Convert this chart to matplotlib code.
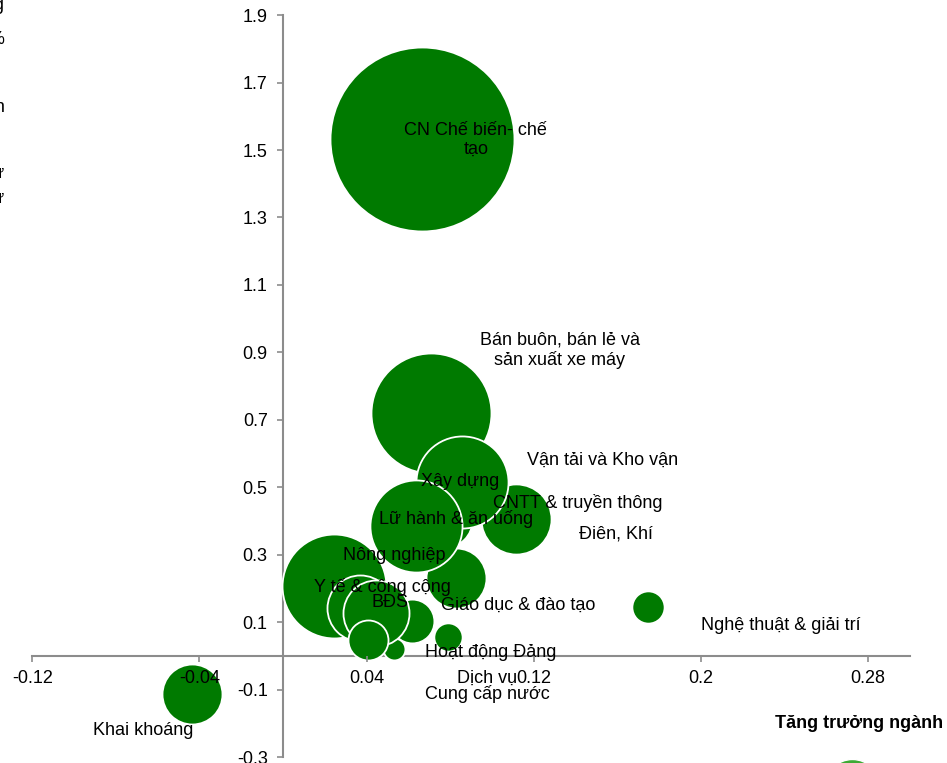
import matplotlib.pyplot as plt

plt.rcParams['font.family'] = ['Liberation Sans', 'DejaVu Sans']

# bubble data: x = growth, y = contribution, size = relative capital
SECTORS = ['Nông nghiệp', 'CN Chế biến- chế\ntạo', 'Bán buôn, bán lẻ và\nsản xuất xe máy',
           'Xây dựng', 'CNTT & truyền thông', 'Vận tải và Kho vận', 'Giáo dục & đào tạo',
           'Lữ hành & ăn uống', 'Y tế & công cộng', 'Điên, Khí', 'Cung cấp nước', 'BĐS',
           'Dịch vụ', 'Hoạt động Đảng', 'Nghệ thuật & giải trí', 'Khai khoáng']
GROWTH = [0.0244, 0.0665, 0.0708, 0.0775, 0.1115, 0.0856, 0.0828, 0.0636,
          0.0368, 0.0617, 0.0531, 0.0445, 0.0407, 0.0789, 0.1746, -0.0435]
CONTRIB = [0.2075, 1.533, 0.720, 0.403, 0.406, 0.516, 0.231, 0.385,
           0.142, 0.104, 0.021, 0.127, 0.047, 0.056, 0.145, -0.113]
SIZE = [27.0, 84.6, 36.0, 7.3, 12.3, 21.2, 9.0, 21.2,
        10.9, 4.8, 1.2, 10.9, 4.0, 2.0, 2.6, 9.0]

# label anchor points (data coords)
LABEL_X = [0.0531, 0.0923, 0.1325, 0.0847, 0.1411, 0.1531, 0.1124, 0.0828,
           0.0474, 0.1593, 0.0976, 0.0512, 0.0976, 0.0995, 0.2383, -0.0670]
LABEL_Y = [0.299, 1.530, 0.907, 0.516, 0.454, 0.581, 0.151, 0.406,
           0.205, 0.362, -0.113, 0.160, -0.065, 0.009, 0.089, -0.222]

LEGEND_X = [0.2722]
LEGEND_Y = [-0.388]
LEGEND_SIZE = [7.84]

XTICKS = [-0.12, -0.04, 0.04, 0.12, 0.2, 0.28]
XTICK_LABELS = ['-0.12', '-0.04', '0.04', '0.12', '0.2', '0.28']
YTICKS = [-0.3, -0.1, 0.1, 0.3, 0.5, 0.7, 0.9, 1.1, 1.3, 1.5, 1.7, 1.9]
YTICK_LABELS = ['-0.3', '-0.1', '0.1', '0.3', '0.5', '0.7', '0.9', '1.1', '1.3', '1.5', '1.7', '1.9']

SIDE_TEXT = ['Tỷ trọng', 'vốn FDI, %', 'Tăng trưởng vốn', 'Bong bóng: vốn đầu tư', 'Nhà đầu tư']

GREEN = '#007A00'
AXIS_GREY = '#8C8C8C'
SCALE = 207.4  # size unit -> points^2

W, H = 947, 763
fig = plt.figure(figsize=(W / 100, H / 100), dpi=100)
ax = fig.add_axes([32.2 / W, 5.8 / H, 877.8 / W, 742.1 / H])
ax.set_xlim(-0.12, 0.3)
ax.set_ylim(-0.3, 1.9)

# draw one at a time to keep overlap order
for gx, cy, sz in zip(GROWTH, CONTRIB, SIZE):
    ax.scatter([gx], [cy], s=sz * SCALE, color=GREEN, edgecolors='white',
               linewidths=1.3, zorder=2)

ax.scatter(LEGEND_X, LEGEND_Y, s=[v * SCALE for v in LEGEND_SIZE], color='#3DAA35',
           edgecolors='white', linewidths=1.0, clip_on=False, zorder=2)

for name, lx, ly in zip(SECTORS, LABEL_X, LABEL_Y):
    ax.text(lx, ly, name, ha='center', va='center', fontsize=13, zorder=5,
            linespacing=1.2)

for side in ['top', 'right']:
    ax.spines[side].set_visible(False)
ax.spines['left'].set_position(('data', 0))
ax.spines['bottom'].set_position(('data', 0))
for side in ['left', 'bottom']:
    ax.spines[side].set_color(AXIS_GREY)
    ax.spines[side].set_linewidth(1.5)
    ax.spines[side].set_zorder(1)

ax.set_xticks(XTICKS)
ax.set_xticklabels(XTICK_LABELS)
ax.set_yticks(YTICKS)
ax.set_yticklabels(YTICK_LABELS)
ax.tick_params(axis='both', direction='out', length=4, width=1.2, color=AXIS_GREY,
               labelsize=13, labelcolor='black')
ax.tick_params(axis='x', pad=6)
ax.tick_params(axis='y', pad=7)
ax.xaxis.set_zorder(6)
ax.yaxis.set_zorder(6)
ax.set_facecolor('none')

fig.text(943 / W, 1 - 723 / H, 'Tăng trưởng ngành', ha='right', va='center',
         fontsize=13, fontweight='bold')

# y-axis title, cut off at the left edge of the picture
for txt, base in zip(SIDE_TEXT, [10, 43, 112, 178, 203]):
    fig.text(4.5 / W, 1 - base / H, txt, ha='right', va='baseline', fontsize=13)

fig.savefig('out.png', dpi=100)
